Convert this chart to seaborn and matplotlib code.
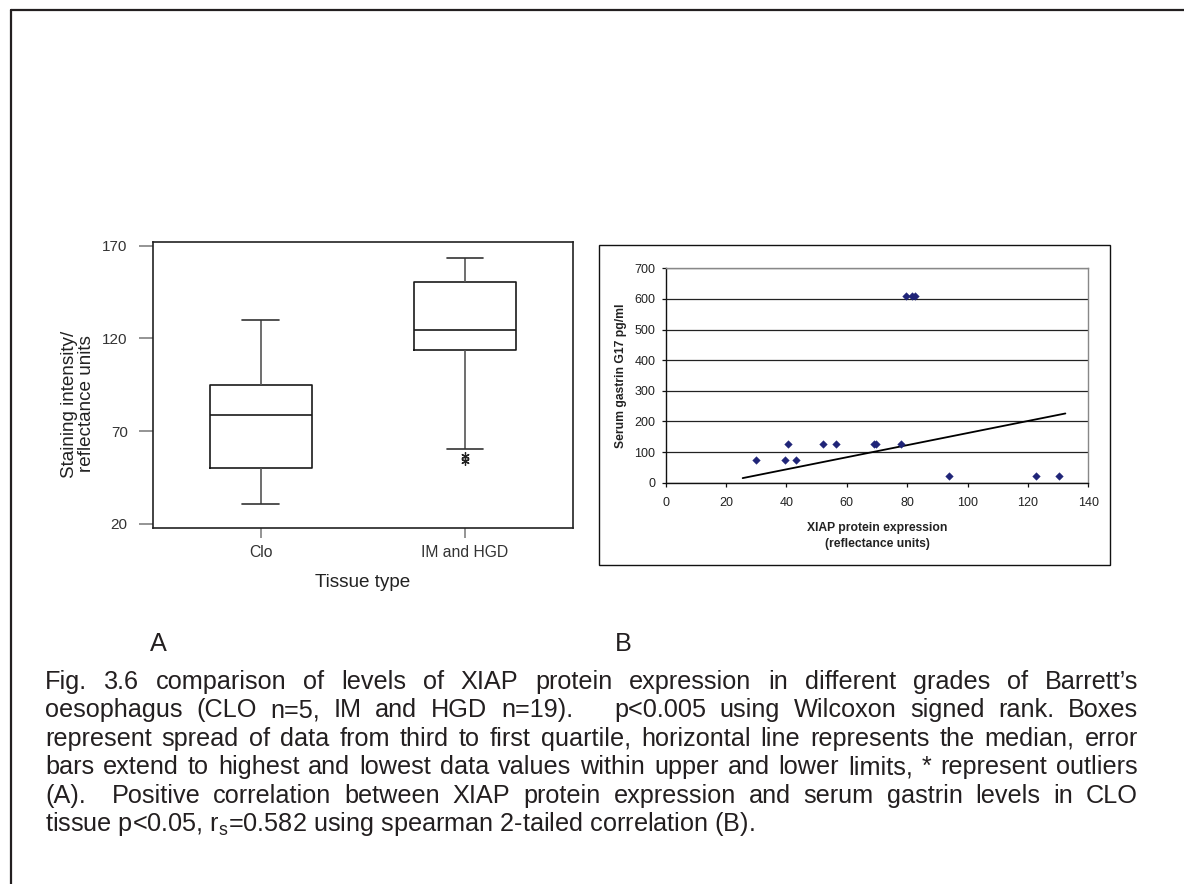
import numpy as np
import pandas as pd
import matplotlib
matplotlib.use("Agg")
import matplotlib.pyplot as plt
import seaborn as sns
from matplotlib.lines import Line2D
from matplotlib.patches import Rectangle

# ---------------- data ----------------
categories = ["Clo", "IM and HGD"]
clo_values = [30.6, 49.9, 78.6, 94.8, 130.1]                      # n = 5
im_hgd_values = [54.0, 56.7, 60.4, 96.0, 113.0, 114.4, 117.0, 120.0,
                 122.5, 124.7, 128.0, 133.0, 140.0, 147.0, 153.4, 156.0,
                 159.0, 161.5, 163.5]                               # n = 19
box_yticks = [20, 70, 120, 170]

xiap_expression = [29.9, 39.4, 43.2, 40.6, 52.2, 56.5, 68.9, 69.7, 77.8,
                   79.6, 81.7, 82.5, 93.7, 122.6, 130.4]
serum_gastrin = [75, 75, 75, 125, 125, 125, 127, 127, 127,
                 610, 610, 610, 22, 22, 22]
trend_x = [25.5, 132.4]
trend_y = [15, 226]
scatter_xticks = [0, 20, 40, 60, 80, 100, 120, 140]
scatter_yticks = [0, 100, 200, 300, 400, 500, 600, 700]

caption_lines = [
    "Fig. 3.6 comparison of levels of XIAP protein expression in different grades of Barrett\u2019s",
    "oesophagus (CLO n=5, IM and HGD n=19).   p<0.005 using Wilcoxon signed rank. Boxes",
    "represent spread of data from third to first quartile, horizontal line represents the median, error",
    "bars extend to highest and lowest data values within upper and lower limits, * represent outliers",
    "(A).  Positive correlation between XIAP protein expression and serum gastrin levels in CLO",
]
caption_last = r"tissue p<0.05, r$_\mathregular{s}$=0.582 using spearman 2-tailed correlation (B)."

# ---------------- style ----------------
sns.set_theme(style="white")
plt.rcParams["font.family"] = ["Liberation Sans", "DejaVu Sans"]
plt.rcParams["mathtext.fontset"] = "custom"
plt.rcParams["mathtext.rm"] = "Liberation Sans"

W, H = 1184, 884
fig = plt.figure(figsize=(W / 100, H / 100), dpi=100)
fig.patch.set_facecolor("white")


def fx(px):
    return px / W


def fy(py):
    return 1 - py / H


# page border (top + left)
fig.add_artist(Line2D([fx(11), fx(1184)], [fy(10), fy(10)], color="#231f20", lw=1.6))
fig.add_artist(Line2D([fx(11), fx(11)], [fy(10), fy(884)], color="#231f20", lw=1.6))

# ---------------- panel A: box plot ----------------
axA = fig.add_axes([fx(152.7), fy(528), fx(573 - 152.7), (528 - 241.7) / H])
df_box = pd.DataFrame({
    "tissue": [categories[0]] * len(clo_values) + [categories[1]] * len(im_hgd_values),
    "value": clo_values + im_hgd_values,
})
box_kws = dict(data=df_box, x="tissue", y="value", order=categories, width=0.5,
               fill=False, color="#1a1a1a", linecolor="#1a1a1a", linewidth=1.2,
               whis=1.5, fliersize=6,
               boxprops={"color": "#1a1a1a"},
               medianprops={"color": "#1a1a1a"},
               flierprops={"marker": (6, 2, 0), "markeredgecolor": "#222222",
                           "markeredgewidth": 0.9},
               whiskerprops={"color": "#555555"},
               capprops={"color": "#333333"},
               ax=axA)
try:
    sns.boxplot(capwidths=0.18, **box_kws)
except TypeError:
    sns.boxplot(**box_kws)

axA.set_xlim(-0.53, 1.53)
axA.set_ylim(17.8, 172.2)
axA.set_yticks(box_yticks)
axA.set_yticklabels([str(v) for v in box_yticks])
for s in axA.spines.values():
    s.set_visible(True)
    s.set_color("#222222")
    s.set_linewidth(1.2)
axA.tick_params(axis="y", direction="out", length=10, width=1.1, color="#777777",
                pad=8, labelsize=11, labelcolor="#333333", left=True)
axA.tick_params(axis="x", direction="out", length=7, width=1.1, color="#777777",
                pad=5, labelsize=11.3, labelcolor="#333333", bottom=True)
axA.set_xlabel("Tissue type", fontsize=13.6, color="#222222", labelpad=10)
axA.set_ylabel("Staining intensity/\nreflectance units", fontsize=13.6,
               color="#222222", linespacing=1.05, va="center")
axA.yaxis.set_label_coords(-0.178, 0.433)
axA.grid(False)

# ---------------- panel B: scatter ----------------
fig.add_artist(Rectangle((fx(599), fy(565)), fx(1110 - 599), (565 - 245) / H,
                         fill=False, edgecolor="#111111", lw=1.0))
axB = fig.add_axes([fx(665.7), fy(482.7), fx(422.6), 214.4 / H])
axB.set_axisbelow(True)
axB.yaxis.grid(True, color="#222222", lw=0.9)
axB.xaxis.grid(False)
sns.lineplot(x=trend_x, y=trend_y, color="black", lw=1.3, ax=axB)
sns.scatterplot(x=xiap_expression, y=serum_gastrin, marker="D", s=15,
                color="#1f2478", edgecolor="#1f2478", linewidth=0.3, ax=axB, zorder=3)
axB.set_xlim(0, 140)
axB.set_ylim(0, 700)
axB.set_xticks(scatter_xticks)
axB.set_yticks(scatter_yticks)
axB.spines["left"].set_color("#111111")
axB.spines["bottom"].set_color("#111111")
axB.spines["top"].set_color("#888888")
axB.spines["right"].set_color("#888888")
for s in axB.spines.values():
    s.set_visible(True)
    s.set_linewidth(1.0)
axB.tick_params(axis="both", direction="out", length=3, width=0.9, color="#111111",
                labelsize=9, labelcolor="#222222", left=True, bottom=True)
axB.tick_params(axis="x", pad=7)
axB.tick_params(axis="y", pad=4.5)
axB.set_xlabel("XIAP protein expression\n(reflectance units)", fontsize=8.7,
               fontweight="bold", color="#222222", labelpad=10, linespacing=1.35)
axB.set_ylabel("Serum gastrin G17 pg/ml", fontsize=8.7, fontweight="bold",
               color="#222222", labelpad=5)

# ---------------- caption ----------------
cap_size = 18.2
cap_kw = dict(fontsize=cap_size, color="#231f20")
fig.text(fx(158), fy(651), "A", ha="center", va="baseline", **cap_kw)
fig.text(fx(623), fy(651), "B", ha="center", va="baseline", **cap_kw)

fig.canvas.draw()
renderer = fig.canvas.get_renderer()
x_left, x_right = 45, 1138
baselines = [689, 717.4, 745.8, 774.2, 802.6, 831]


def justified_line(text, y):
    tokens = text.split(" ")
    widths = []
    for t in tokens:
        if t:
            tt = fig.text(0, 0, t, **cap_kw)
            widths.append(tt.get_window_extent(renderer).width)
            tt.remove()
        else:
            widths.append(0.0)
    gap = (x_right - x_left - sum(widths)) / (len(tokens) - 1)
    x = x_left
    for t, w in zip(tokens, widths):
        if t:
            fig.text(fx(x), fy(y), t, ha="left", va="baseline", **cap_kw)
        x += w + gap


for line, yb in zip(caption_lines, baselines[:-1]):
    justified_line(line, yb)
fig.text(fx(x_left), fy(baselines[-1]), caption_last, ha="left", va="baseline", **cap_kw)

fig.savefig("out.png", dpi=100, facecolor="white")
